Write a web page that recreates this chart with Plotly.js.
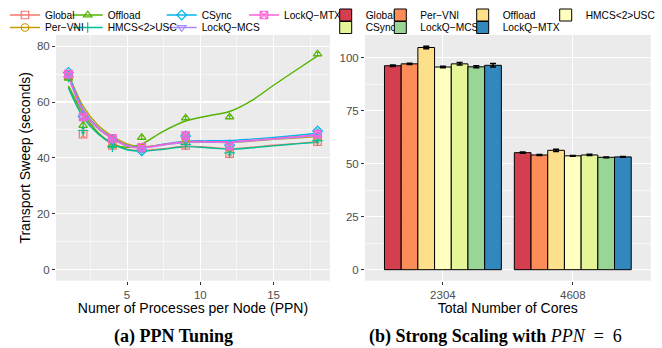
<!DOCTYPE html>
<html>
<head>
<meta charset="utf-8">
<script src="https://cdn.plot.ly/plotly-3.0.1.min.js"></script>
<style>
  html, body { margin: 0; padding: 0; background: #fff; }
  #chart { width: 662px; height: 348px; }
</style>
</head>
<body>
<div id="chart"></div>
<script>
// ---------- data ----------
const seriesNames = ['Global', 'Per\u2212VNI', 'Offload', 'HMCS&lt;2&gt;USC', 'CSync', 'LockQ\u2212MCS', 'LockQ\u2212MTX'];

// (a) PPN tuning: measured points
const ppn = [1, 2, 4, 6, 9, 12, 18];
const ptGlobal  = [69.5, 48.5, 44.5, 43.5, 44.5, 41.5, 45.8];
const ptPerVNI  = [69.5, 54.5, 46.5, 43.5, 47.0, 43.5, 47.5];
const ptOffload = [68.5, 51.6, 44.5, 47.3, 54.3, 54.6, 77.2];
const ptHMCS    = [69.0, 49.8, 44.0, 42.8, 44.8, 41.8, 46.2];
const ptCSync   = [70.6, 54.8, 46.5, 42.5, 47.8, 44.5, 49.6];
const ptLQMCS   = [69.8, 54.5, 46.5, 43.2, 47.0, 44.0, 48.2];
const ptLQMTX   = [70.0, 54.7, 47.0, 43.8, 48.0, 44.2, 48.5];
const errGlobal  = [0.6, 0.8, 0.5, 0.5, 0.6, 0.6, 0.5];
const errPerVNI  = [0.5, 0.7, 0.5, 0.5, 0.6, 0.5, 0.5];
const errOffload = [0.6, 0.8, 0.5, 0.6, 0.5, 0.5, 0.6];
const errHMCS    = [0.5, 0.9, 0.5, 0.5, 0.6, 0.7, 0.5];
const errCSync   = [0.6, 0.7, 0.5, 0.5, 0.6, 0.6, 0.7];
const errLQMCS   = [0.5, 0.7, 0.5, 0.5, 0.8, 0.9, 0.6];
const errLQMTX   = [0.6, 0.8, 0.5, 0.6, 1.0, 1.2, 0.8];

// (a) smoothed fit curves
const fitX         = [1, 2, 3, 4, 5, 6, 7.5, 9, 10.5, 12, 13.5, 15, 16.5, 18];
const fitGlobal    = [65.5, 55.0, 49.0, 45.3, 43.1, 42.6, 43.3, 44.2, 43.8, 43.3, 43.8, 44.5, 45.1, 45.8];
const fitPerVNI    = [70.2, 58.5, 51.8, 47.8, 45.0, 44.0, 44.8, 45.6, 45.6, 45.5, 46.0, 46.6, 47.1, 47.6];
const fitOffload   = [65.8, 56.0, 49.2, 45.0, 43.8, 45.0, 49.6, 53.2, 55.0, 56.6, 60.5, 66.0, 71.3, 76.5];
const fitHMCS      = [65.0, 54.5, 48.6, 45.0, 42.9, 42.4, 43.1, 44.0, 43.6, 43.1, 43.6, 44.3, 45.0, 45.6];
const fitCSync     = [70.3, 57.5, 51.0, 47.2, 44.5, 43.7, 44.9, 46.0, 46.1, 46.2, 46.7, 47.3, 48.0, 48.8];
const fitLQMCS     = [69.0, 56.5, 50.5, 46.8, 44.2, 43.5, 44.6, 45.6, 45.6, 45.6, 46.1, 46.7, 47.3, 48.0];
const fitLQMTX     = [69.5, 57.0, 50.8, 47.0, 44.4, 43.7, 44.8, 45.8, 45.8, 45.8, 46.3, 46.9, 47.6, 48.3];

// (b) strong scaling
const coreLabels = ['2304', '4608'];
const barGlobal  = [96.2, 55.2];
const barPerVNI  = [97.1, 54.1];
const barOffload = [104.8, 56.3];
const barHMCS    = [95.6, 53.7];
const barCSync   = [97.1, 54.1];
const barLQMCS   = [95.7, 53.0];
const barLQMTX   = [96.4, 53.2];
const barErrGlobal  = [0.4, 0.3];
const barErrPerVNI  = [0.3, 0.2];
const barErrOffload = [0.6, 0.5];
const barErrHMCS    = [0.3, 0.2];
const barErrCSync   = [0.6, 0.3];
const barErrLQMCS   = [0.5, 0.2];
const barErrLQMTX   = [0.8, 0.2];

// ticks
const xTicksA = [5, 10, 15];
const yTicksA = [0, 20, 40, 60, 80];
const yTicksB = [0, 25, 50, 75, 100];

// ---------- styling ----------
const W = 662, H = 348;
const hue = ['#F8766D', '#C49A00', '#53B400', '#00C094', '#00B6EB', '#A58AFF', '#FB61D7'];
const spectral = ['#D53E4F', '#FC8D59', '#FEE08B', '#FFFFBF', '#E6F598', '#99D594', '#3288BD'];
const symbols = ['square-open', 'circle-open', 'triangle-up-open', 'cross-thin-open', 'diamond-open', 'triangle-down-open', 'square-x-open'];

const pts  = [ptGlobal, ptPerVNI, ptOffload, ptHMCS, ptCSync, ptLQMCS, ptLQMTX];
const errs = [errGlobal, errPerVNI, errOffload, errHMCS, errCSync, errLQMCS, errLQMTX];
const fits = [fitGlobal, fitPerVNI, fitOffload, fitHMCS, fitCSync, fitLQMCS, fitLQMTX];
const bars = [barGlobal, barPerVNI, barOffload, barHMCS, barCSync, barLQMCS, barLQMTX];
const barErrs = [barErrGlobal, barErrPerVNI, barErrOffload, barErrHMCS, barErrCSync, barErrLQMCS, barErrLQMTX];

// legend cell positions (text start x, row center y) in px
const legA = [[40, 15], [40, 27.5], [102.7, 15], [102.7, 27.5], [196.7, 15], [196.7, 27.5], [279, 15]];
const legB = [[360.7, 15], [415.3, 15], [497.7, 15], [580.7, 15], [360.7, 27.5], [415.3, 27.5], [497.7, 27.5]];

const layout = {
  width: W, height: H,
  margin: {l: 0, r: 0, t: 0, b: 0, pad: 0},
  paper_bgcolor: '#FFFFFF',
  plot_bgcolor: '#EBEBEB',
  font: {family: 'Liberation Sans, Arial, sans-serif', color: '#000'},
  showlegend: true,
  barmode: 'group', bargap: 0.1, bargroupgap: 0,
  annotations: [],
};

let legCount = 0;
function newLegend(px, py) {
  legCount += 1;
  const id = legCount === 1 ? 'legend' : 'legend' + legCount;
  layout[id] = {
    x: (px - 35) / W, y: 1 - py / H, xanchor: 'left', yanchor: 'middle',
    bgcolor: 'rgba(0,0,0,0)', borderwidth: 0, orientation: 'v',
    font: {size: 10.2, color: '#000', family: 'Liberation Sans, Arial, sans-serif'},
    itemclick: false, itemdoubleclick: false, tracegroupgap: 0,
  };
  return id;
}

const axisCommon = {
  ticks: 'outside', ticklen: 3, tickwidth: 1, tickcolor: '#333333',
  tickfont: {size: 11.5, color: '#4D4D4D'},
  showgrid: true, gridcolor: '#FFFFFF', gridwidth: 1.1,
  zeroline: false, showline: false, automargin: false,
};

const yDom = [1 - 280.7 / H, 1 - 35 / H];

layout.xaxis = Object.assign({}, axisCommon, {
  domain: [56 / W, 330 / W], anchor: 'y', range: [0.15, 18.85],
  tickmode: 'array', tickvals: xTicksA,
  minor: {tickvals: [2.5, 7.5, 12.5, 17.5], showgrid: true, gridcolor: '#FFFFFF', gridwidth: 0.55, ticks: ''},
  title: {text: 'Numer of Processes per Node (PPN)', font: {size: 14, color: '#000'}, standoff: 3},
});
layout.yaxis = Object.assign({}, axisCommon, {
  domain: yDom, anchor: 'x', range: [-4, 84],
  tickmode: 'array', tickvals: yTicksA,
  minor: {tickvals: [10, 30, 50, 70], showgrid: true, gridcolor: '#FFFFFF', gridwidth: 0.55, ticks: ''},
  title: {text: 'Transport Sweep (seconds)', font: {size: 14, color: '#000'}, standoff: 2},
});
layout.xaxis2 = Object.assign({}, axisCommon, {
  domain: [365 / W, 650.7 / W], anchor: 'y2', type: 'category',
  categoryorder: 'array', categoryarray: coreLabels, range: [-0.6, 1.6],
  title: {text: 'Total Number of Cores', font: {size: 14, color: '#000'}, standoff: 3},
});
layout.yaxis2 = Object.assign({}, axisCommon, {
  domain: yDom, anchor: 'x2', range: [-5.2, 110.7],
  tickmode: 'array', tickvals: yTicksB,
  minor: {tickvals: [12.5, 37.5, 62.5, 87.5], showgrid: true, gridcolor: '#FFFFFF', gridwidth: 0.55, ticks: ''},
});

const traces = [];
// (a) fitted lines (legend line part, no text)
for (let i = 0; i < 7; i++) {
  const lg = newLegend(legA[i][0], legA[i][1]);
  traces.push({
    type: 'scatter', mode: 'lines', x: fitX, y: fits[i], xaxis: 'x', yaxis: 'y',
    line: {color: hue[i], width: 1.4, shape: 'spline', smoothing: 1},
    name: '', legend: lg, hoverinfo: 'skip',
  });
}
// (a) points
for (let i = 0; i < 7; i++) {
  const lg = newLegend(legA[i][0], legA[i][1]);
  traces.push({
    type: 'scatter', mode: 'markers', x: ppn, y: pts[i], xaxis: 'x', yaxis: 'y',
    marker: {symbol: symbols[i], color: hue[i], size: 7.5, line: {width: 1.2, color: hue[i]}},
    error_y: {type: 'data', array: errs[i], color: hue[i], thickness: 1, width: 2},
    name: seriesNames[i], legend: lg,
  });
}
// (b) bars
for (let i = 0; i < 7; i++) {
  const lg = newLegend(legB[i][0], legB[i][1]);
  traces.push({
    type: 'bar', x: coreLabels, y: bars[i], xaxis: 'x2', yaxis: 'y2',
    marker: {color: spectral[i], line: {color: '#000', width: 1}},
    error_y: {type: 'data', array: barErrs[i], color: '#000', thickness: 1.5, width: 3},
    name: seriesNames[i], legend: lg, offsetgroup: String(i),
  });
}

// captions
layout.annotations.push({
  xref: 'paper', yref: 'paper', x: 174 / W, y: 1 - 336 / H, xanchor: 'center', yanchor: 'middle',
  showarrow: false, text: '<b>(a) PPN Tuning</b>',
  font: {family: 'Liberation Serif, DejaVu Serif, serif', size: 18, color: '#000'},
});
layout.annotations.push({
  xref: 'paper', yref: 'paper', x: 495 / W, y: 1 - 336 / H, xanchor: 'center', yanchor: 'middle',
  showarrow: false, text: '<b>(b) Strong Scaling with</b> <i>PPN</i>&nbsp;&nbsp;=&nbsp;&nbsp;6',
  font: {family: 'Liberation Serif, DejaVu Serif, serif', size: 18, color: '#000'},
});

Plotly.newPlot('chart', traces, layout, {displayModeBar: false, staticPlot: true});
</script>
</body>
</html>
